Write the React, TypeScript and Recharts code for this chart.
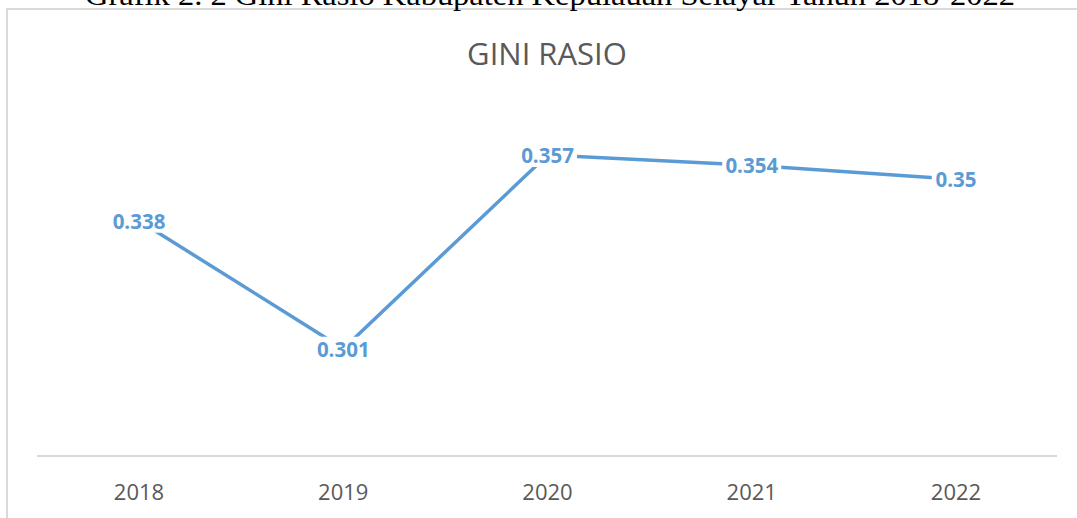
import React from "react";
import { LineChart, Line, XAxis, YAxis, LabelList } from "recharts";

const years = ["2018", "2019", "2020", "2021", "2022"];
const giniValues = [0.338, 0.301, 0.357, 0.354, 0.35];
const giniLabels = ["0.338", "0.301", "0.357", "0.354", "0.35"];

const chartData = years.map((year, i) => ({
  year,
  gini: giniValues[i],
  label: giniLabels[i],
}));

const BLUE = "#5B9BD5";
const GREY_TEXT = "#595959";

// label with a white box behind it, so the line looks broken around the number
function ValueLabel(props: any) {
  const { x, y, value } = props;
  if (x == null || y == null) return null;
  const text = String(value);
  const w = text.length * 10.6 + 6;
  const h = 24;
  return (
    <g>
      <rect x={x - w / 2} y={y - h / 2} width={w} height={h} fill="#fff" />
      <text
        x={x}
        y={y}
        textAnchor="middle"
        dominantBaseline="central"
        fill={BLUE}
        fontFamily="'Open Sans', sans-serif"
        fontWeight={700}
        fontSize={20.5}
      >
        {text}
      </text>
    </g>
  );
}

export default function App() {
  return (
    <div
      style={{
        position: "absolute",
        left: 0,
        top: 0,
        width: 1077,
        height: 518,
        overflow: "hidden",
        background: "#fff",
      }}
    >
      <div
        style={{
          position: "absolute",
          left: 6,
          top: 8,
          width: 1100,
          height: 540,
          border: "2px solid #D9D9D9",
          boxSizing: "border-box",
        }}
      />
      <div style={{ position: "absolute", left: 0, top: 0 }}>
        <LineChart
          width={1077}
          height={518}
          data={chartData}
          margin={{ top: 110, right: 20, left: 37, bottom: 32 }}
        >
          <XAxis
            dataKey="year"
            padding={{ left: 102, right: 101 }}
            axisLine={{ stroke: "#D9D9D9", strokeWidth: 2 }}
            tickLine={false}
            tickMargin={22}
            tick={{ fill: GREY_TEXT, fontSize: 22, fontFamily: "'Open Sans', sans-serif" }}
          />
          <YAxis hide domain={[0.27, 0.37]} />
          <Line
            type="linear"
            dataKey="gini"
            stroke={BLUE}
            strokeWidth={3.5}
            dot={false}
            activeDot={false}
            isAnimationActive={false}
          >
            <LabelList dataKey="label" content={<ValueLabel />} />
          </Line>
        </LineChart>
      </div>
      <svg
        width={1077}
        height={518}
        style={{ position: "absolute", left: 0, top: 0, pointerEvents: "none" }}
      >
        <text
          x={550}
          y={5}
          textAnchor="middle"
          fontFamily="'Liberation Serif', serif"
          fontSize={30}
          fill="#000"
          textLength={930}
          lengthAdjust="spacingAndGlyphs"
        >
          Grafik 2. 2 Gini Rasio Kabupaten Kepulauan Selayar Tahun 2018-2022
        </text>
        <text
          x={547}
          y={65}
          textAnchor="middle"
          fontFamily="'Open Sans', sans-serif"
          fontSize={31}
          fill={GREY_TEXT}
        >
          GINI RASIO
        </text>
      </svg>
    </div>
  );
}
